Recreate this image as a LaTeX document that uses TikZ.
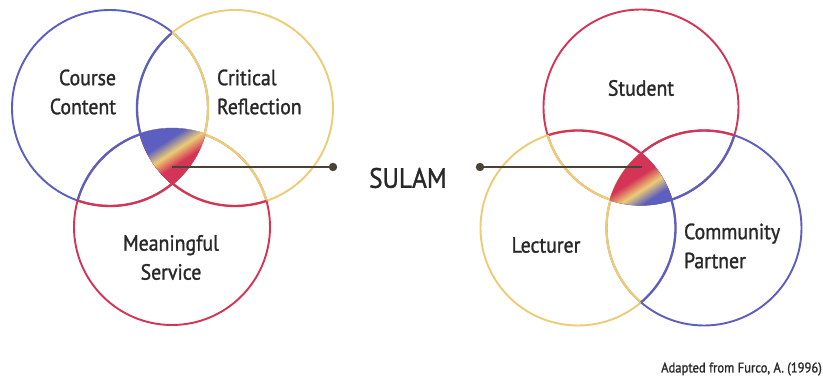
\documentclass[tikz,border=0pt]{standalone}
\usepackage{fontspec}
\setmainfont{PT Sans}[FakeStretch=0.9,FakeBold=1.2]
\definecolor{blueC}{RGB}{92,94,192}
\definecolor{yellowC}{RGB}{236,204,118}
\definecolor{redC}{RGB}{212,52,85}
\definecolor{lineC}{RGB}{74,66,56}
\definecolor{textC}{RGB}{40,40,40}
\pgfdeclareverticalshading{leftHub}{100bp}{color(0bp)=(redC); color(41bp)=(redC); color(50bp)=(yellowC); color(59bp)=(blueC); color(100bp)=(blueC)}
\pgfdeclareverticalshading{rightHub}{100bp}{color(0bp)=(blueC); color(41bp)=(blueC); color(50bp)=(yellowC); color(59bp)=(redC); color(100bp)=(redC)}
\tikzset{
  ring/.style={line width=1.9pt},
  lbl/.style={text=textC,inner sep=0pt,outer sep=0pt,font=\fontsize{22}{29}\selectfont},
  link/.style={draw=lineC,line width=2.2pt}
}
\begin{document}
\begin{tikzpicture}[x=1pt,y=1pt]
\path[use as bounding box,fill=white] (0,0) rectangle (823,378);
% circle centres
\coordinate (cc) at (110,270);
\coordinate (cr) at (235,270);
\coordinate (ms) at (172,151);
\coordinate (st) at (641,271);
\coordinate (le) at (578,150);
\coordinate (cp) at (704,150);

% left venn
\path[draw=blueC,ring] (cc) circle (98);
\path[draw=yellowC,ring] (cr) circle (98);
\path[draw=redC,ring] (ms) circle (98);
\begin{scope}
\path[clip] (cc) circle (98);
\path[draw=blueC,ring,line width=2.3pt] (cr) circle (98);
\path[draw=blueC,ring,line width=2.3pt] (ms) circle (98);
\end{scope}
\begin{scope}
\path[clip] (cr) circle (98);
\path[draw=yellowC,ring,line width=2.3pt] (cc) circle (98);
\path[draw=yellowC,ring,line width=2.3pt] (ms) circle (98);
\end{scope}
\begin{scope}
\path[clip] (ms) circle (98);
\path[draw=redC,ring,line width=2.3pt] (cc) circle (98);
\path[draw=redC,ring,line width=2.3pt] (cr) circle (98);
\end{scope}
\begin{scope}
\path[clip] (cc) circle (99);
\path[clip] (cr) circle (99);
\path[clip] (ms) circle (99);
\shade[shading=leftHub,shading angle=33] (138,191) rectangle (210,263);
\end{scope}

% right venn
\path[draw=redC,ring] (st) circle (97.5);
\path[draw=yellowC,ring] (le) circle (97.5);
\path[draw=blueC,ring] (cp) circle (97.5);
\begin{scope}
\path[clip] (st) circle (97.5);
\path[draw=redC,ring,line width=2.3pt] (le) circle (97.5);
\path[draw=redC,ring,line width=2.3pt] (cp) circle (97.5);
\end{scope}
\begin{scope}
\path[clip] (le) circle (97.5);
\path[draw=yellowC,ring,line width=2.3pt] (st) circle (97.5);
\path[draw=yellowC,ring,line width=2.3pt] (cp) circle (97.5);
\end{scope}
\begin{scope}
\path[clip] (cp) circle (97.5);
\path[draw=blueC,ring,line width=2.3pt] (st) circle (97.5);
\path[draw=blueC,ring,line width=2.3pt] (le) circle (97.5);
\end{scope}
\begin{scope}
\path[clip] (st) circle (98.5);
\path[clip] (le) circle (98.5);
\path[clip] (cp) circle (98.5);
\shade[shading=rightHub,shading angle=33] (607,153) rectangle (679,225);
\end{scope}

% labels
\node[lbl,anchor=east,align=right] (course) at (116,286) {Course\\Content};
\node[lbl,anchor=west,align=left] (critical) at (217,286) {Critical\\Reflection};
\node[lbl,align=center] (service) at (171,120.5) {Meaningful\\Service};
\node[lbl] (student) at (641,290) {Student};
\node[lbl] (lecturer) at (546,133) {Lecturer};
\node[lbl,anchor=west,align=left] (partner) at (684,132) {Community\\Partner};
\node[text=textC,inner sep=0pt,font=\fontsize{28}{32}\selectfont] (sulam) at (408,200) {SULAM};
\node[text=textC,inner sep=0pt,anchor=east,font=\fontsize{14}{16}\selectfont] (source) at (822,9) {Adapted from Furco, A. (1996)};

% links to SULAM
\coordinate (lhub) at (172,211);
\coordinate (ldot) at (333,211);
\coordinate (rdot) at (480,211);
\coordinate (rhub) at (642,211);
\path[link] (lhub) -- (ldot);
\path[link] (rdot) -- (rhub);
\path[fill=lineC] (ldot) circle (4.2);
\path[fill=lineC] (rdot) circle (4.2);
\end{tikzpicture}
\end{document}
